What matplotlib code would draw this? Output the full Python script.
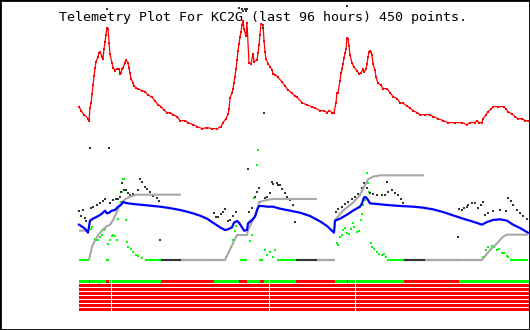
import numpy as np
import matplotlib.pyplot as plt
from matplotlib.patches import Rectangle

N_POINTS = 450
TITLE = "Telemetry Plot For KC2G (last 96 hours) 450 points."

# top panel: temperature trace (sample index, value)
red_idx = [0, 2, 5, 9, 10, 11, 12, 13, 14, 15, 16, 17, 19, 20, 21, 23, 24, 25, 26, 27,
           28, 29, 30, 31, 33, 34, 36, 38, 40, 41, 42, 43, 44, 46, 47, 49, 50, 51, 52, 54,
           55, 57, 59, 63, 66, 69, 73, 76, 79, 82, 85, 88, 91, 94, 98, 101, 106, 109, 114, 118,
           123, 128, 133, 138, 142, 144, 147, 149, 150, 151, 153, 154, 155, 156, 157, 158, 159, 160, 161, 162,
           163, 164, 165, 167, 168, 170, 172, 174, 175, 178, 179, 180, 181, 182, 184, 185, 186, 187, 189, 191,
           193, 194, 196, 199, 203, 206, 209, 213, 216, 218, 223, 228, 233, 236, 241, 245, 248, 250, 253, 255,
           257, 258, 259, 261, 262, 263, 264, 265, 266, 267, 268, 269, 270, 271, 273, 275, 278, 280, 282, 284,
           285, 287, 288, 289, 290, 291, 292, 293, 294, 296, 297, 299, 302, 304, 308, 311, 314, 318, 321, 324,
           328, 331, 334, 338, 341, 346, 351, 354, 359, 364, 369, 376, 383, 388, 391, 396, 398, 400, 403, 404,
           407, 409, 412, 414, 419, 425, 427, 429, 433, 436, 439, 443, 446, 449]
red_val = [41.7, 39.7, 37.7, 35.7, 34.7, 41.2, 43.5, 48, 52.7, 57, 61, 64, 66.7, 68.7, 69.2, 66.7, 65.5, 70.5, 74.2, 77.5,
           81.2, 80.7, 73.7, 68, 63.5, 61.2, 59.7, 60.7, 60.7, 58, 58.7, 60.7, 61, 63.7, 65, 63.4, 61.2, 58.5, 55.5, 53.7,
           52.2, 50.9, 50.5, 49.7, 49.2, 47.5, 46.4, 44.5, 42.7, 41.7, 40, 38.7, 38.7, 37.7, 36.7, 34.7, 34.7, 33.7, 32.7, 31.7,
           30.7, 31.2, 30.7, 30.7, 31.7, 33.7, 35.7, 38, 40.7, 46, 48.7, 50.5, 53.7, 56.7, 60.4, 65, 69.7, 73, 76.4, 79.2,
           82.5, 84.7, 80.4, 77, 83.4, 63.7, 63, 68, 64.2, 65, 68.4, 72.5, 77.5, 83, 82.7, 74.7, 69, 65.7, 63.2, 61.7,
           60, 58.2, 57.7, 56.4, 54, 52, 50, 48.4, 47, 46.4, 43.7, 42.5, 41.7, 41, 39.7, 39.7, 38.7, 39.7, 38.7, 38.7,
           43.7, 48.7, 48.7, 54.7, 58.4, 60.7, 63, 65.9, 68.4, 70.4, 76.2, 75.5, 72, 67.7, 63.4, 61.4, 59.7, 58, 58.7, 60.4,
           59, 60.4, 63, 66.4, 69.2, 69.7, 69, 67.4, 63, 60, 56.4, 53.4, 52.4, 50.7, 50.7, 48.7, 46.7, 45.7, 43.7, 43.4,
           42, 41, 39.7, 38.7, 37.7, 37.7, 37.7, 36.7, 35.7, 34.7, 33.7, 33.7, 33.7, 32.7, 33.7, 33.7, 34.7, 33.7, 33.7, 35.7,
           37.5, 39.2, 40.4, 41.7, 41.7, 41.7, 40.4, 39.2, 38, 36.7, 35.7, 35.7, 34.7, 34.7]

# lower panel: blue trace
blue_idx = [0, 3, 6, 9, 11, 14, 18, 21, 24, 26, 28, 30, 33, 36, 39, 42, 44, 46, 49, 54,
            61, 68, 74, 81, 88, 94, 101, 108, 114, 121, 128, 134, 141, 146, 149, 153, 155, 158, 160, 163,
            165, 168, 169, 173, 176, 178, 180, 183, 188, 194, 201, 211, 221, 231, 241, 248, 255, 256, 261, 268,
            274, 281, 283, 285, 287, 289, 291, 298, 308, 321, 334, 344, 354, 364, 374, 384, 394, 403, 408, 414,
            421, 428, 434, 441, 449]
blue_val = [31.8, 30, 28.2, 24.6, 35.4, 37.2, 39, 40.5, 42.6, 44.4, 42, 42.6, 44.4, 45, 48, 49.5, 52.2, 51.6, 51, 50.4,
            49.8, 49.2, 48.6, 48, 47.1, 46.2, 45, 43.5, 42, 39.9, 37.2, 33.6, 29.4, 27, 27.6, 29.4, 33.6, 35.1, 33.6, 29.4,
            26.4, 27, 33, 36, 39, 45, 48.6, 48.6, 48, 48, 46.2, 44.4, 42.6, 39.6, 34.8, 30.6, 24.6, 35.4, 37.2, 40.8,
            44.4, 48, 51, 56.4, 56.4, 54, 51, 50.4, 49.5, 48.6, 48, 47.1, 45.6, 43.2, 40.2, 37.2, 34.5, 31.8, 34.2, 36,
            36.6, 35.4, 31.8, 28.8, 24.6]

# light gray trace (nan = break between segments)
nan = np.nan
lgray_idx = [0, 9, nan,
             10, 13, 18, 24, 28, 31, 34, 38, 41, 46, 51, 58, 102, nan,
             102, 146, 158, 168, 169, 174, 178, 180, 188, 194, 238, nan,
             238, 256, nan,
             256, 264, 274, 281, 286, 289, 294, 301, 345, nan,
             346, 403, 411, 418, 424, 428, 449]
lgray_val = [26.4, 26.4, nan,
             0, 12, 21, 27.6, 30.6, 31.5, 36, 43.5, 49.5, 54.6, 57, 58.8, 58.8, nan,
             0, 0, 22.5, 22.5, 27, 36, 43.5, 52.2, 54, 54.9, 54.9, nan,
             0, 0, nan,
             36, 44.4, 51.6, 58.5, 67.5, 72.6, 75, 76.2, 76.2, nan,
             0, 0, 9, 15, 21, 22.8, 22.8]

# dark gray samples
dgray_idx = [0, 2, 4, 6, 7, 11, 12, 14, 18, 21, 24, 26, 28, 30, 31, 34, 37, 39, 41, 42,
             43, 45, 47, 49, 51, 54, 59, 61, 63, 66, 68, 71, 74, 78, 80, 81, 135, 137, 139, 142,
             144, 146, 149, 151, 154, 157, 160, 163, 164, 166, 167, 168, 169, 170, 173, 176, 178, 180, 181, 184,
             185, 186, 188, 191, 193, 194, 198, 199, 201, 203, 206, 208, 211, 214, 216, 257, 259, 263, 266, 268,
             269, 273, 276, 279, 283, 285, 288, 291, 294, 298, 303, 306, 308, 309, 313, 316, 319, 322, 324, 379,
             380, 383, 385, 388, 389, 393, 396, 399, 402, 404, 406, 409, 414, 421, 427, 429, 432, 434, 438, 441,
             444, 448]
dgray_val = [44.4, 39.6, 45, 37.5, 35.1, 100.5, 46.5, 48, 49.5, 51, 53.1, 54.6, 226, 100.5, 51.6, 54, 54.6, 54.6, 57, 61.5,
             69.6, 63, 63, 60, 58.8, 59.4, 63, 72.6, 70.5, 66, 63.6, 61.5, 57.6, 55.5, 53.1, 18, 42.6, 38.4, 39, 41.4,
             43.5, 45.6, 35.4, 36, 39.6, 43.5, 227, 226, 224, 226, 224, 226, 82.2, 43.5, 46.5, 57, 61.5, 64.5, 52.5, 208.5,
             132.6, 55.5, 56.4, 60, 70.5, 68.4, 69, 67.5, 67.5, 63.6, 60, 57, 54, 49.5, 34.5, 43.5, 45.6, 48, 50.4, 228.6,
             52.5, 54.6, 56.4, 59.4, 64.5, 69.6, 64.5, 60, 59.4, 58.5, 58.5, 58.5, 70.5, 61.5, 63, 60.6, 58.5, 54.6, 51.6, 21,
             45.6, 45, 46.5, 48, 49.5, 51, 51.6, 46.5, 49.5, 52.5, 40.5, 42, 43.8, 45, 44.4, 55.5, 53.4, 49.5, 45, 42,
             39.6, 36.6]
dgray_zero_runs = [(82, 135), (217, 256), (325, 380)]

# green samples
green_idx = [12, 13, 16, 18, 19, 21, 23, 25, 26, 29, 31, 33, 34, 36, 38, 39, 42, 43, 44, 45,
             47, 48, 49, 52, 54, 57, 59, 63, 147, 149, 152, 154, 156, 157, 171, 173, 175, 178, 179, 186,
             188, 191, 194, 196, 258, 259, 261, 263, 264, 266, 268, 270, 272, 274, 275, 278, 280, 282, 283, 284,
             286, 287, 288, 289, 290, 292, 293, 295, 298, 300, 303, 305, 307, 404, 407, 409, 411, 413, 415, 418,
             420, 423, 425, 428, 429]
green_val = [27.6, 29.4, 18.6, 18, 18, 20.4, 22.5, 27, 27.6, 14.4, 18, 21.6, 22.5, 21.6, 18, 36.6, 52.5, 61.5, 72.6, 72.6,
             36, 16.5, 11.4, 9.6, 7.5, 4.5, 3.6, 1.8, 3, 6.6, 12, 18, 26.4, 30.6, 17.4, 22.5, 55.5, 85.5, 99, 9,
             4.5, 7.5, 3, 9, 15, 13.5, 21, 22.5, 27, 28.5, 24.6, 23.4, 27.6, 33.6, 29.4, 25.5, 26.4, 36, 41.4, 49.5,
             54, 57, 78, 69, 61.5, 15, 12, 10.2, 7.2, 5.4, 4.5, 5.4, 2.4, 3, 9, 11.4, 9, 12.6, 11.4, 9,
             9.6, 6.6, 6, 3.6, 2.4]
green_zero_runs = [(0, 10), (27, 30), (66, 146), (161, 168), (180, 184), (198, 256), (308, 403), (431, 449)]

# status bits: 8 rows, row 0 has "ok" runs, the rest are all off
status_rows = 8
status_ok_runs = [(0, 10), (11, 27), (30, 32), (33, 82), (135, 160), (168, 181), (185, 190),
                  (191, 217), (256, 268), (269, 276), (277, 325), (380, 450)]
status_gaps = [32, 190, 276]

RED = '#ff0000'
GREEN = '#00ff00'
BLUE = '#0000ff'
DGRAY = '#333333'
LGRAY = '#a8a8a8'

W, H = 530, 330
fig = plt.figure(figsize=(W / 100, H / 100), dpi=100)
fig.patch.set_facecolor('white')

left = 79 / W
width = 451 / W

ax_top = fig.add_axes([left, (H - 130) / H, width, 110 / H])
ax_low = fig.add_axes([left, (H - 260) / H, width, 110 / H])
ax_st = fig.add_axes([left, (H - 312) / H, width, 32 / H])

for ax in (ax_top, ax_low, ax_st):
    ax.set_xlim(0, 451)
    ax.axis('off')

ax_top.set_ylim(30, 85)
ax_low.set_ylim(0, 99)
ax_st.set_ylim(status_rows * 4, 0)

# top panel: thin line + square dots gives the dotted look
ax_top.plot(red_idx, red_val, color=RED, lw=0.9, marker='s', ms=1.6, mew=0, clip_on=False)

# lower panel
ax_low.plot(green_idx, green_val, ls='none', marker='s', ms=1.5, mew=0, color=GREEN, clip_on=False)
for a, b in green_zero_runs:
    ax_low.plot([a, b], [0, 0], color=GREEN, lw=1.5, solid_capstyle='butt', clip_on=False)
ax_low.plot(dgray_idx, dgray_val, ls='none', marker='s', ms=1.5, mew=0, color=DGRAY, clip_on=False)
for a, b in dgray_zero_runs:
    ax_low.plot([a, b], [0, 0], color=DGRAY, lw=1.5, solid_capstyle='butt', clip_on=False)
ax_low.plot(lgray_idx, lgray_val, color=LGRAY, lw=1.5, solid_capstyle='butt', clip_on=False)
ax_low.plot(blue_idx, blue_val, color=BLUE, lw=1.6, clip_on=False)

# status bars
bounds = [0] + [g for g in status_gaps] + [N_POINTS]
red_segs = []
for k in range(len(bounds) - 1):
    s = bounds[k] + (1 if k > 0 else 0)
    red_segs.append((s, bounds[k + 1] - s))
for r in range(status_rows):
    ax_st.broken_barh(red_segs, (r * 4, 3), facecolors=RED, edgecolor='none')
ax_st.broken_barh([(a, b - a) for a, b in status_ok_runs], (0, 3), facecolors=GREEN, edgecolor='none')

fig.text(263 / W, 1 - 17 / H, TITLE, ha='center', va='center',
         family='DejaVu Sans Mono', fontsize=9.6, color='black')

fig.add_artist(Rectangle((0, 0), 1, 1, transform=fig.transFigure, fill=False,
                         edgecolor='black', lw=2))

fig.savefig('out.png', dpi=100)
